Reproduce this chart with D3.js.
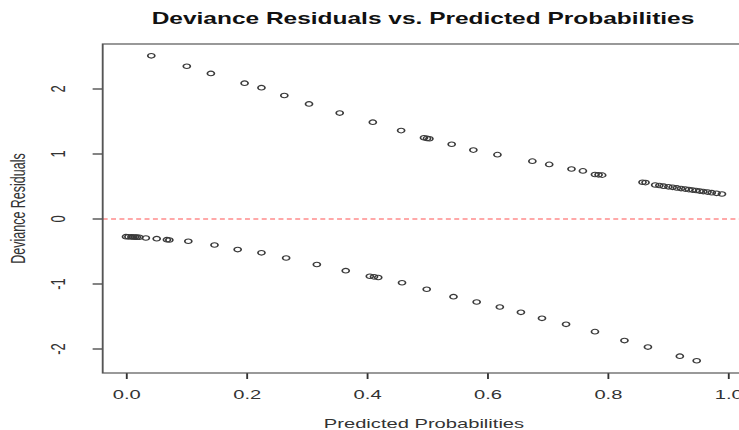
<!DOCTYPE html>
<html>
<head>
<meta charset="utf-8">
<script src="https://cdn.jsdelivr.net/npm/d3@7"></script>
<style>
  html, body { margin: 0; padding: 0; background: #fff; }
  svg { display: block; }
  text { font-family: "Liberation Sans", Arial, sans-serif; }
</style>
</head>
<body>
<svg id="chart"></svg>
<script>
// observed = 1 : predicted probability and deviance residual
var probsPos = [0.042, 0.101, 0.141, 0.197, 0.225, 0.263, 0.304, 0.355, 0.410, 0.457,
    0.495, 0.500, 0.504, 0.541, 0.577, 0.617, 0.675, 0.703, 0.740, 0.759,
    0.779, 0.785, 0.791, 0.858, 0.863, 0.879, 0.886, 0.893, 0.901, 0.908,
    0.915, 0.922, 0.929, 0.935, 0.941, 0.947, 0.953, 0.959, 0.966, 0.973,
    0.981, 0.990];
var residPos = [2.51, 2.35, 2.24, 2.09, 2.02, 1.90, 1.77, 1.63, 1.49, 1.36,
    1.25, 1.24, 1.235, 1.15, 1.06, 0.99, 0.89, 0.84, 0.77, 0.74,
    0.685, 0.68, 0.675, 0.565, 0.56, 0.523, 0.515, 0.505, 0.495, 0.487,
    0.478, 0.468, 0.46, 0.452, 0.445, 0.438, 0.43, 0.422, 0.414, 0.405,
    0.395, 0.385];

// observed = 0
var probsNeg = [0.000, 0.004, 0.009, 0.012, 0.015, 0.018, 0.022, 0.033, 0.051, 0.068,
    0.072, 0.1035, 0.147, 0.1855, 0.225, 0.266, 0.317, 0.365, 0.405, 0.412,
    0.419, 0.4585, 0.4995, 0.544, 0.5825, 0.621, 0.656, 0.691, 0.731, 0.779,
    0.828, 0.867, 0.920, 0.948];
var residNeg = [-0.272, -0.274, -0.276, -0.277, -0.278, -0.279, -0.28, -0.292, -0.303, -0.318,
    -0.323, -0.343, -0.40, -0.47, -0.52, -0.60, -0.70, -0.795, -0.88, -0.89,
    -0.90, -0.98, -1.08, -1.195, -1.277, -1.354, -1.436, -1.528, -1.62, -1.733,
    -1.87, -1.97, -2.11, -2.18];

var xTicks = [0, 0.2, 0.4, 0.6, 0.8, 1.0];
var yTicks = [-2, -1, 0, 1, 2];

var titleText = "Deviance Residuals vs. Predicted Probabilities";
var xLabel = "Predicted Probabilities";
var yLabel = "Deviance Residuals";

// the picture is stretched sideways, draw in narrow units and let viewBox widen it
var sx = 1.55;
var outW = 739, outH = 430;
var W = outW / sx;

var boxLeft = 102.7 / sx, boxRight = 746 / sx, boxTop = 44, boxBottom = 373;

var xScale = d3.scaleLinear().domain([0, 1]).range([126 / sx, 728 / sx]);
var yScale = d3.scaleLinear().domain([-2, 2]).range([349, 89]);

var svg = d3.select("#chart")
    .attr("width", outW)
    .attr("height", outH)
    .attr("viewBox", "0 0 " + W + " " + outH)
    .attr("preserveAspectRatio", "none");

var points = probsPos.map((p, i) => ({p: p, r: residPos[i]}))
    .concat(probsNeg.map((p, i) => ({p: p, r: residNeg[i]})));

// title
svg.append("text")
    .attr("x", 423 / sx)
    .attr("y", 24)
    .attr("text-anchor", "middle")
    .style("font-size", "15.8px")
    .style("font-weight", "bold")
    .attr("fill", "#111")
    .text(titleText);

// x axis
var xAxis = d3.axisBottom(xScale)
    .tickValues(xTicks)
    .tickSize(6)
    .tickSizeOuter(0)
    .tickPadding(12)
    .tickFormat(d3.format(".1f"));
var xg = svg.append("g")
    .attr("transform", "translate(0," + boxBottom + ")")
    .call(xAxis);
xg.select(".domain").remove();
xg.selectAll("line").attr("stroke", "#333").attr("stroke-width", 1.2);
xg.selectAll("text")
    .attr("fill", "#333")
    .attr("y", 26)
    .attr("dy", null)
    .style("font-size", "13px")
    .style("font-family", "'Liberation Sans', Arial, sans-serif");

// y axis, labels turned like R does
var yg = svg.append("g");
yg.selectAll("line.tick")
    .data(yTicks)
    .enter()
    .append("line")
    .attr("class", "tick")
    .attr("x1", boxLeft - 6.5)
    .attr("x2", boxLeft)
    .attr("y1", d => yScale(d))
    .attr("y2", d => yScale(d))
    .attr("stroke", "#333")
    .attr("stroke-width", 1.2);
yg.selectAll("text")
    .data(yTicks)
    .enter()
    .append("text")
    .attr("transform", d => "translate(" + (65 / sx) + "," + yScale(d) + ") rotate(-90)")
    .attr("text-anchor", "middle")
    .attr("fill", "#333")
    .style("font-size", "13px")
    .text(d => d);

svg.append("text")
    .attr("transform", "translate(" + (25 / sx) + "," + ((boxTop + boxBottom) / 2) + ") rotate(-90)")
    .attr("text-anchor", "middle")
    .attr("fill", "#333")
    .style("font-size", "12.5px")
    .text(yLabel);

svg.append("text")
    .attr("x", 424 / sx)
    .attr("y", 428)
    .attr("text-anchor", "middle")
    .attr("fill", "#333")
    .style("font-size", "13px")
    .text(xLabel);

// plot region
var clip = svg.append("clipPath").attr("id", "plotClip");
clip.append("rect")
    .attr("x", boxLeft)
    .attr("y", boxTop)
    .attr("width", boxRight - boxLeft)
    .attr("height", boxBottom - boxTop);

svg.append("line")
    .attr("clip-path", "url(#plotClip)")
    .attr("x1", boxLeft)
    .attr("x2", boxRight)
    .attr("y1", yScale(0))
    .attr("y2", yScale(0))
    .attr("stroke", "#ff8c8c")
    .attr("stroke-width", 1.6)
    .attr("stroke-dasharray", "3.2,2.2");

svg.append("g")
    .selectAll("circle")
    .data(points)
    .enter()
    .append("circle")
    .attr("cx", d => xScale(d.p))
    .attr("cy", d => yScale(d.r))
    .attr("r", 2.3)
    .attr("fill", "none")
    .attr("stroke", "#3a3a3a")
    .attr("stroke-width", 1.05);

svg.append("rect")
    .attr("x", boxLeft)
    .attr("y", boxTop)
    .attr("width", boxRight - boxLeft)
    .attr("height", boxBottom - boxTop)
    .attr("fill", "none")
    .attr("stroke", "#555")
    .attr("stroke-width", 1.2);
</script>
</body>
</html>
